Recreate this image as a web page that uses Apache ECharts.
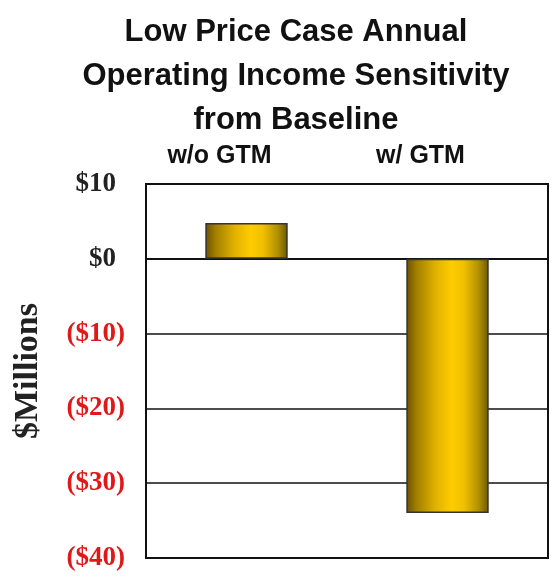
<!DOCTYPE html>
<html>
<head>
<meta charset="utf-8">
<script src="https://cdn.jsdelivr.net/npm/echarts@6/dist/echarts.min.js"></script>
<style>
  html, body { margin: 0; padding: 0; background: #fff; }
  #chart { width: 558px; height: 576px; }
</style>
</head>
<body>
<div id="chart"></div>
<script>
// Scenario columns and their change in annual operating income ($ millions)
const categories = ['w/o GTM', 'w/ GTM'];
const sensitivity = [4.8, -34];
const yTicks = [10, 0, -10, -20, -30, -40];

const barGradient = new echarts.graphic.LinearGradient(0, 0, 1, 0, [
  { offset: 0, color: '#6a5000' },
  { offset: 0.12, color: '#a07e00' },
  { offset: 0.35, color: '#e0b000' },
  { offset: 0.55, color: '#ffcc00' },
  { offset: 0.7, color: '#f0c000' },
  { offset: 0.88, color: '#b09000' },
  { offset: 1, color: '#6a5800' }
]);

const chart = echarts.init(document.getElementById('chart'));
chart.setOption({
  backgroundColor: '#ffffff',
  animation: false,
  title: {
    text: 'Low Price Case Annual\nOperating Income Sensitivity\nfrom Baseline',
    left: 291,
    top: 5,
    textAlign: 'center',
    textStyle: {
      fontFamily: 'Liberation Sans, Arial, sans-serif',
      fontWeight: 'bold',
      fontSize: 31,
      lineHeight: 44,
      color: '#111'
    }
  },
  grid: {
    left: 146,
    right: 10,
    top: 184,
    bottom: 18,
    outerBoundsMode: 'none',
    containLabel: false,
    show: true,
    borderColor: '#111',
    borderWidth: 2,
    backgroundColor: 'transparent'
  },
  xAxis: {
    type: 'category',
    data: categories,
    position: 'top',
    axisLine: { show: true, lineStyle: { color: '#111', width: 2 } },
    axisTick: { show: false },
    axisLabel: {
      margin: 15,
      padding: [0, 54, 0, 0],
      fontFamily: 'Liberation Sans, Arial, sans-serif',
      fontWeight: 'bold',
      fontSize: 25,
      color: '#111'
    }
  },
  yAxis: {
    type: 'value',
    min: -40,
    max: 10,
    interval: 10,
    name: '$Millions',
    nameLocation: 'middle',
    nameGap: 101,
    nameRotate: 90,
    nameTextStyle: {
      fontFamily: 'Liberation Serif, Times New Roman, serif',
      fontWeight: 'bold',
      fontSize: 34,
      color: '#222'
    },
    axisLine: { show: true, lineStyle: { color: '#111', width: 2 } },
    axisTick: { show: false },
    splitLine: { show: true, lineStyle: { color: '#111', width: 1.5 } },
    axisLabel: {
      margin: 21,
      formatter: function (v) {
        if (yTicks.indexOf(v) < 0) return '';
        return v < 0 ? '{neg|($' + Math.abs(v) + ')}' : '{pos|$' + v + '}';
      },
      rich: {
        pos: {
          fontFamily: 'Liberation Serif, Times New Roman, serif',
          fontWeight: 'bold',
          fontSize: 27,
          color: '#222',
          padding: [0, 9, 0, 0]
        },
        neg: {
          fontFamily: 'Liberation Serif, Times New Roman, serif',
          fontWeight: 'bold',
          fontSize: 27,
          color: '#e01818'
        }
      }
    }
  },
  series: [{
    type: 'bar',
    data: sensitivity,
    barWidth: '41%',
    itemStyle: {
      color: barGradient,
      borderColor: '#333',
      borderWidth: 1.5
    }
  }]
});
</script>
</body>
</html>
